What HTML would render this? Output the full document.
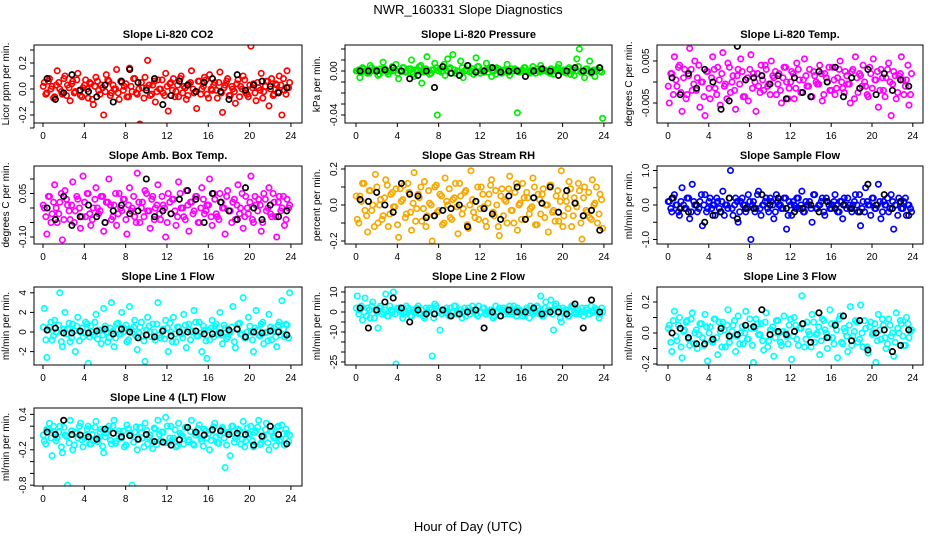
<!DOCTYPE html>
<html><head><meta charset="utf-8">
<style>
html,body{margin:0;padding:0;background:#fff;}
svg{display:block;font-family:"Liberation Sans",Arial,sans-serif;}
</style></head>
<body>
<svg id="chart" width="936" height="540" viewBox="0 0 936 540" xmlns="http://www.w3.org/2000/svg">
<rect x="0" y="0" width="936" height="540" fill="#fff"/>
<text x="468" y="14" font-size="13" text-anchor="middle">NWR_160331  Slope Diagnostics</text>
<text x="468" y="531" font-size="13" text-anchor="middle">Hour of Day (UTC)</text>
</svg>
<script>
const xTicks = [0,4,8,12,16,20,24];

const co2Values = [5,-3,8,2,-6,14,0,-4,10,3,-9,6,-2,12,-5,1,7,-7,4,-12,9,-1,3,-20,11,6,-3,0,15,-8,5,2,-6,16,-2,8,-4,-27,1,9,22,-5,3,-10,7,0,-3,12,-17,5,8,-2,-6,10,2,-8,4,14,-3,-15,6,0,9,-4,11,-1,5,-7,13,-18,3,8,-5,0,-11,7,2,10,-3,-6,33,4,-9,1,12,-2,6,-13,8,-4,3,10,-20,-1,14,5];
const co2Core = [2,-4,6,0,-7,3,5,-2,8,-5,1,4,-3,7,-1,-6,3,0,5,-8,2,6,-4,1,-2,7,-5,3,0,-3,6,-1,4,-6,2,8,-3,0,5,-7,1,3,-4,6,-2,0,7,-5,2,4,-1,-6,3,8,-3,1,-5,5,0,-2,6,-4,2,7,-7,0,3,-1,5,-3,1,6,-5,2,-2,4,-6,0,7,-4,3,1,-3,5,-1,-7,2,6,0,-5,4,-2,3,8,-4,1];
const co2Black = [8,-8,-3,11,-1,-2,-6,3,-10,6,15,5,-1,8,-12,-5,6,3,-2,5,8,-2,-8,11,-1,3,6,2,-3,1];
const presValues = [0,-6,3,0,-2,5,1,0,-4,2,8,0,-3,1,0,6,-7,0,3,-1,2,10,-5,0,4,-11,0,13,-3,1,7,-40,2,0,-4,11,3,15,-2,0,9,-6,1,5,0,-3,12,4,0,-1,7,2,-5,0,3,1,-2,0,6,-4,0,2,-38,0,1,3,-1,0,4,-2,0,5,1,0,-1,2,-3,0,6,0,1,-2,3,0,-4,11,20,0,-6,2,9,0,-5,1,0,-43];
const presCore = [0,1,-1,2,0,-2,3,0,1,-3,0,2,-1,0,4,1,-2,0,3,-1,0,2,-3,1,0,5,-1,2,0,-2,1,3,0,-1,6,0,2,-2,1,0,-4,3,0,1,-1,2,0,4,-2,0,1,-1,3,0,-3,2,0,1,0,-1,2,0,1,-1,0,3,0,-2,1,0,2,-1,0,1,0,-2,0,1,3,0,-1,0,2,-3,1,0,4,-1,0,2,0,-2,1,0,3,-1];
const presBlack = [0,0,0,1,3,0,-7,-4,0,-15,4,-2,-4,5,-1,0,3,-1,0,0,-5,0,2,0,-4,0,3,0,-1,3];
const tempValues = [-50,20,60,-10,40,-70,30,-30,80,-20,50,10,-60,0,-80,25,-40,60,-15,35,-55,70,-5,45,-25,15,-65,30,55,-35,5,-45,65,20,-70,-10,40,-20,30,-5,50,10,-30,20,-50,35,0,-15,25,-40,45,5,-25,55,-10,30,-35,15,-5,40,-45,20,0,-20,35,-30,10,50,-15,25,-5,-50,30,60,-25,15,40,-10,-35,20,55,5,-60,30,-20,10,45,-80,25,-40,15,60,-30,5,-55,20];
const tempCore = [-10,20,-30,5,35,-25,10,-40,15,30,-5,-20,40,0,-35,25,-15,10,30,-30,5,20,-10,-40,35,0,-20,15,-5,25,-35,10,30,-15,0,20,-25,5,40,-10,-30,15,25,-5,-20,10,35,-40,0,20,-15,30,-25,5,15,-10,-35,25,0,-5,20,-30,10,35,-20,5,-15,30,0,-25,15,-5,25,-40,10,20,-10,0,-30,35,-15,5,25,-20,10,-35,30,0,-5,15,-25,20,5,-10,40,-30];
const tempBlack = [10,-30,20,-15,30,0,-65,-45,85,5,10,15,-5,15,-40,10,-25,-35,25,0,35,-35,10,-15,30,-30,20,-20,5,-10];
const ambValues = [0,-9,4,-2,8,-5,2,-11,6,1,-4,9,-1,3,-7,11,-3,5,-6,0,7,-2,4,-8,2,10,-4,1,-6,5,-1,3,-9,7,0,-3,12,-5,2,6,-1,-7,4,0,8,-4,1,-10,5,-2,3,-6,9,0,-3,6,-8,2,-1,4,-5,7,-2,1,10,-6,3,-3,5,0,-9,6,-1,2,-4,8,0,-7,4,-2,11,-5,1,3,-8,5,-1,7,-3,2,-10,4,0,-6,3,1];
const ambCore = [1,-3,4,-5,2,0,-2,5,-4,3,-1,1,-5,4,0,-3,2,5,-2,-4,3,0,-1,4,-5,2,1,-3,5,-2,0,3,-4,1,-1,4,-5,2,0,-3,5,-1,3,-4,1,-2,4,0,-5,2,3,-1,-3,5,0,-4,1,2,-2,4,-5,0,3,-1,1,-3,5,-2,-4,2,0,4,-1,-5,3,1,-2,5,-3,0,2,-4,4,-1,1,-5,3,0,-2,5,-3,2,-1,4,-4,0];
const ambBlack = [0,-4,4,-6,-3,1,-3,-5,-1,1,-2,-1,10,-3,-1,-2,3,6,3,-5,5,2,-1,-4,7,0,-4,1,-3,-1];
const rhValues = [-8,5,12,-3,-15,8,0,17,-10,3,-6,14,-12,6,-1,9,-18,2,11,-5,7,-14,18,-2,4,-9,13,-6,1,-20,10,-4,6,-11,15,0,-7,3,12,-16,5,-2,8,-13,19,-4,2,-8,10,-1,-12,6,14,-6,0,-17,9,3,-10,16,-3,7,-14,1,12,-8,4,-2,15,-11,6,-5,9,0,-15,11,-3,5,-9,19,-6,2,13,-12,4,-1,8,-19,10,-4,-7,14,1,-10,6,-13];
const rhCore = [5,-10,2,12,-6,8,-3,-12,10,0,-8,4,11,-5,7,-1,-11,9,3,-7,12,-4,1,-9,6,10,-2,-12,8,0,-6,11,-3,5,-10,2,9,-8,4,-1,12,-5,7,-11,0,3,-7,10,-2,6,-9,1,11,-4,8,-12,5,-6,2,9,-3,-10,12,0,-8,4,7,-5,-1,10,-11,3,6,-7,0,11,-4,-9,8,2,-12,5,-2,9,-6,1,12,-10,4,-3,7,-8,0,10,-5,3];
const rhBlack = [3,2,7,0,-4,12,6,5,-7,-6,-3,-2,0,-12,2,-2,-5,-8,5,10,-8,4,1,10,-4,8,1,-6,-3,-14];
const sampValues = [1,-2,3,0,-3,5,-1,2,-4,6,0,-2,1,-6,3,-1,2,0,-3,1,-2,4,0,-1,10,-3,2,-5,1,0,-2,3,-10,1,-1,4,-3,0,2,-2,1,-4,3,0,-1,2,-7,1,-3,0,2,-1,4,-2,0,1,-5,3,-1,0,2,-3,1,-1,0,3,-2,1,-4,0,2,-1,0,3,-2,-6,1,5,0,-3,2,-1,6,-4,1,0,-2,3,-7,0,2,-1,1,-3,0,-2];
const sampCore = [1,-1,2,0,-2,1,0,-1,2,-2,1,0,-1,3,0,-2,1,-1,0,2,-1,1,-3,0,2,-1,0,1,-2,2,0,-1,1,0,-2,3,-1,0,1,-1,2,0,-2,1,0,-1,2,-3,0,1,-1,2,0,-2,1,0,-1,3,-1,0,1,-2,2,0,-1,1,0,-2,1,2,-1,0,-2,1,0,3,-1,-2,1,0,2,-1,0,1,-2,0,2,-1,1,0,-3,1,-1,2,0,-1];
const sampBlack = [2,-1,-2,0,-5,-3,-2,2,-4,-1,-1,3,0,2,-1,-2,-1,0,-2,1,-1,0,-1,-2,6,0,3,-1,1,-3];
const l1Values = [24,-26,5,-8,12,0,40,-15,20,3,-10,8,-20,15,0,-5,10,-32,6,-3,18,2,-12,24,0,-6,30,-15,8,-2,20,4,-10,26,-1,12,-18,5,-4,-30,15,0,8,-8,30,-6,3,12,-20,0,15,-10,5,-2,18,-16,8,0,22,-4,10,-20,2,-27,-8,12,6,-2,20,-12,4,-5,0,26,-16,8,-2,35,-6,15,0,-20,22,-3,8,-12,0,18,-8,4,-15,10,32,-5,7,40];
const l1Core = [5,-8,2,10,-4,0,7,-10,3,-2,9,-6,1,6,-9,4,-1,8,-5,0,10,-7,2,-3,6,-10,4,1,-6,9,-2,0,7,-8,3,5,-4,-1,10,-9,2,6,-5,0,8,-3,1,-7,4,9,-10,-2,5,0,-6,7,3,-8,1,10,-4,-1,6,-9,2,4,-5,8,0,-3,7,-7,1,5,-10,3,9,-2,-6,0,6,-8,4,2,-4,10,-1,-9,5,1,-5,7,-3,3,8,-6];
const l1Black = [2,4,-1,-1,1,-1,1,3,-2,3,0,-6,-3,-5,1,-4,0,0,1,-2,-2,-1,2,3,-5,0,-1,1,0,-3];
const l2Values = [8,1,-4,7,2,-3,5,1,-8,3,0,9,-2,1,10,-26,2,0,-1,3,1,-2,0,2,-1,1,-3,0,2,-22,4,-28,-9,1,0,-1,2,0,3,-1,1,0,-2,2,1,0,-1,3,0,2,-1,0,1,-2,0,2,1,-1,0,3,-1,0,2,1,-2,0,1,3,-1,0,2,8,-2,5,1,6,-9,4,2,-5,0,1,-2,3,0,1,-1,2,0,1,-1,0,2,1,-1,0];
const l2Core = [2,-1,3,0,-2,1,3,-3,0,2,-1,1,-2,3,0,-1,2,1,-3,0,2,-2,1,0,3,-1,-2,2,0,1,-3,3,0,-1,1,2,-2,0,3,-1,1,-3,2,0,-1,3,1,-2,0,2,-1,0,1,-3,3,0,-2,2,1,-1,0,3,-2,1,0,-1,2,-3,0,1,3,-1,-2,2,0,1,-1,3,0,-3,2,1,-2,0,3,-1,1,0,-2,2,-1,3,0,1,-3,2];
const l2Black = [2,-8,1,5,7,2,-5,1,-1,-1,1,-2,-1,0,1,-8,0,-2,1,0,0,2,-1,0,0,-1,4,-8,6,0];
const l3Values = [5,-12,14,-5,10,-16,2,8,-8,13,0,-10,6,-3,12,-18,4,-6,9,-14,1,7,-9,15,-2,5,-12,11,0,-7,14,-4,3,-19,9,-1,6,-11,13,-5,2,-15,8,0,-8,11,-2,5,-17,10,-4,3,24,-9,7,-1,12,-6,0,-14,9,2,-10,15,-3,6,-16,11,-7,1,-12,17,-2,8,-6,18,-9,3,-13,7,0,-19,12,-4,5,-10,9,-2,-15,13,0,6,-8,10,-3,2];
const l3Core = [3,-6,8,-2,5,-9,1,7,-4,9,-7,2,-1,6,-8,4,0,-5,9,-3,7,-9,2,5,-6,1,8,-2,-7,4,0,-4,9,-8,3,6,-1,-5,7,-9,2,4,-3,8,-6,1,0,-7,9,-2,5,-8,3,6,-4,1,-9,7,-1,4,-5,8,0,-3,6,-7,2,9,-6,3,-2,5,-8,1,7,-4,0,8,-9,4,-1,6,-5,2,9,-3,-7,5,0,-6,3,8,-2,-8,6,1];
const l3Black = [0,3,-3,-7,-7,-4,3,-2,-1,5,4,15,-1,1,-1,1,6,-6,13,-3,5,11,-5,8,-11,0,2,-12,-8,2];
const l4Values = [-5,15,25,-30,10,0,20,-25,5,-80,30,-20,10,0,25,-15,5,20,-10,-5,28,0,15,-25,8,20,-10,30,-5,12,0,-15,22,5,-80,10,-20,18,0,25,-10,5,-18,15,30,-5,10,35,-8,20,0,-15,25,5,-10,18,-3,30,-12,8,22,-5,15,0,-20,12,25,-8,5,18,-50,10,-30,20,0,15,-10,28,-5,8,20,-15,12,30,-8,3,25,-20,10,0,18,-5,22,-12,8,5];
const l4Core = [5,-10,15,0,20,-5,10,-15,18,3,-8,12,-12,8,20,-3,0,15,-10,6,18,-6,10,-14,2,14,-4,20,-9,7,0,12,-12,16,4,-7,19,-2,9,-15,13,1,-5,17,-11,6,10,-8,20,0,-3,14,-13,8,3,18,-6,11,-10,5,16,-1,-14,12,7,-4,19,2,-9,15,0,-12,10,20,-7,4,13,-2,-15,17,6,-5,9,18,-11,1,14,-8,11,3,-13,20,-3,7,15,-6];
const l4Black = [10,6,30,6,5,2,-2,15,8,2,4,-2,6,-6,-7,-12,-3,18,10,5,14,12,6,8,6,-12,3,20,6,-10];

const co2Ticks = [0.3,0.2,0.1,0,-0.1,-0.2,-0.3];
const co2Labels = ["","0.2","","0.0","","-0.2",""];
const presTicks = [0.02,0.01,0,-0.01,-0.02,-0.03,-0.04];
const presLabels = ["","","0.00","","","","-0.04"];
const tempTicks = [0.005,0,-0.005];
const tempLabels = ["0.005","","-0.005"];
const ambTicks = [0.1,0.05,0,-0.05,-0.1];
const ambLabels = ["","0.05","","","-0.10"];
const rhTicks = [0.2,0.1,0,-0.1,-0.2];
const rhLabels = ["0.2","","0.0","","-0.2"];
const sampTicks = [1,0.5,0,-0.5,-1];
const sampLabels = ["1.0","","0.0","","-1.0"];
const l1Ticks = [4,2,0,-2];
const l1Labels = ["4","2","0","-2"];
const l2Ticks = [10,5,0,-5,-10,-15,-20,-25];
const l2Labels = ["10","","0","","-10","","","-25"];
const l3Ticks = [0.2,0.1,0,-0.1,-0.2];
const l3Labels = ["0.2","","0.0","","-0.2"];
const l4Ticks = [0.4,0.2,0,-0.2,-0.4,-0.6,-0.8];
const l4Labels = ["0.4","","","-0.2","","","-0.8"];

const cols = [{l:34,r:302,h0:43,ph:10.33,lab:9},{l:345,r:612,h0:356,ph:10.33,lab:320},{l:657,r:923,h0:668,ph:10.2,lab:632}];
const rowsTop = [45,166,287,408];
const boxH = 78;

const panels = [
 {id:'co2',title:'Slope Li-820 CO2',ylab:'Licor ppm per min.',c:0,r:0,color:'#ff0000',zero:89,k:130,unit:0.01,vals:co2Values,core:co2Core,blk:co2Black,ticks:co2Ticks,labels:co2Labels},
 {id:'pressure',title:'Slope Li-820 Pressure',ylab:'kPa per min.',c:1,r:0,color:'#00ee00',zero:71,k:1100,unit:0.001,vals:presValues,core:presCore,blk:presBlack,ticks:presTicks,labels:presLabels},
 {id:'temp',title:'Slope Li-820 Temp.',ylab:'degrees C per min.',c:2,r:0,color:'#ff00ff',zero:82,k:4200,unit:0.0001,vals:tempValues,core:tempCore,blk:tempBlack,ticks:tempTicks,labels:tempLabels},
 {id:'amb-box-temp',title:'Slope Amb. Box Temp.',ylab:'degrees C per min.',c:0,r:1,color:'#ff00ff',zero:208,k:290,unit:0.01,vals:ambValues,core:ambCore,blk:ambBlack,ticks:ambTicks,labels:ambLabels},
 {id:'gas-stream-rh',title:'Slope Gas Stream RH',ylab:'percent per min.',c:1,r:1,color:'#f6a800',zero:205,k:180,unit:0.01,vals:rhValues,core:rhCore,blk:rhBlack,ticks:rhTicks,labels:rhLabels},
 {id:'sample-flow',title:'Slope Sample Flow',ylab:'ml/min per min.',c:2,r:1,color:'#0000ff',zero:205,k:34.5,unit:0.1,vals:sampValues,core:sampCore,blk:sampBlack,ticks:sampTicks,labels:sampLabels},
 {id:'line1-flow',title:'Slope Line 1 Flow',ylab:'ml/min per min.',c:0,r:2,color:'#00ffff',zero:332,k:9.8,unit:0.1,vals:l1Values,core:l1Core,blk:l1Black,ticks:l1Ticks,labels:l1Labels},
 {id:'line2-flow',title:'Slope Line 2 Flow',ylab:'ml/min per min.',c:1,r:2,color:'#00ffff',zero:312,k:2,unit:1,vals:l2Values,core:l2Core,blk:l2Black,ticks:l2Ticks,labels:l2Labels},
 {id:'line3-flow',title:'Slope Line 3 Flow',ylab:'ml/min per min.',c:2,r:2,color:'#00ffff',zero:333,k:155,unit:0.01,vals:l3Values,core:l3Core,blk:l3Black,ticks:l3Ticks,labels:l3Labels},
 {id:'line4-flow',title:'Slope Line 4 (LT) Flow',ylab:'ml/min per min.',c:0,r:3,color:'#00ffff',zero:438,k:59,unit:0.01,vals:l4Values,core:l4Core,blk:l4Black,ticks:l4Ticks,labels:l4Labels}
];

const NS='http://www.w3.org/2000/svg';
const svg=document.getElementById('chart');
function mk(tag,attrs,parent){const e=document.createElementNS(NS,tag);for(const a in attrs)e.setAttribute(a,attrs[a]);(parent||svg).appendChild(e);return e;}

panels.forEach(p=>{
  const col=cols[p.c], top=rowsTop[p.r], bot=top+boxH;
  const xS=h=>col.h0+h*col.ph;
  const yS=v=>p.zero-v*p.k;
  const g=mk('g',{});
  
  
  const clip=mk('clipPath',{id:'clip-'+p.id},g);
  mk('rect',{x:col.l,y:top,width:col.r-col.l,height:boxH},clip);
  const t=mk('text',{x:(col.l+col.r)/2,y:top-7,'font-size':11,'font-weight':'bold','text-anchor':'middle'},g);
  t.textContent=p.title;
  
  
  const yl=mk('text',{x:col.lab,y:(top+bot)/2,'font-size':10,'text-anchor':'middle',transform:`rotate(-90 ${col.lab} ${(top+bot)/2})`},g);
  yl.textContent=p.ylab;
  
  
  const pts=mk('g',{'clip-path':`url(#clip-${p.id})`,fill:'none','stroke-width':1.7},g);
  
  
  const n=p.vals.length;
  p.vals.forEach((v,i)=>{
    const h=(i+0.5)*24/n;
    const c=mk('circle',{cx:xS(h),cy:yS(v*p.unit),r:2.7,stroke:p.color},pts);
    
    
  });
  const nc=p.core.length;
  p.core.forEach((v,i)=>{
    const h=(i+0.1)*24/nc;
    const c=mk('circle',{cx:xS(h),cy:yS(v*p.unit),r:2.7,stroke:p.color},pts);
    
    
  });
  const nb=p.blk.length;
  p.blk.forEach((v,i)=>{
    const h=(i+0.5)*24/nb;
    const c=mk('circle',{cx:xS(h),cy:yS(v*p.unit),r:2.7,stroke:'#000'},pts);
    
    
  });
  const box=mk('rect',{x:col.l,y:top,width:col.r-col.l,height:boxH,fill:'none',stroke:'#000','stroke-width':1},g);
  
  
  const xa=mk('g',{stroke:'#000','stroke-width':1},g);
  
  
  mk('line',{x1:xS(xTicks[0]),x2:xS(xTicks[xTicks.length-1]),y1:bot,y2:bot},xa);
  xTicks.forEach(h=>{
    mk('line',{x1:xS(h),x2:xS(h),y1:bot,y2:bot+4},xa);
    const lt=mk('text',{x:xS(h),y:bot+16,'font-size':10,'text-anchor':'middle',stroke:'none',fill:'#000'},xa);
    lt.textContent=h;
  });
  const ya=mk('g',{stroke:'#000','stroke-width':1},g);
  
  
  const tks=p.ticks;
  mk('line',{x1:col.l,x2:col.l,y1:yS(tks[0]),y2:yS(tks[tks.length-1])},ya);
  tks.forEach((v,i)=>{
    const y=yS(v);
    mk('line',{x1:col.l-4,x2:col.l,y1:y,y2:y},ya);
    if(p.labels[i]){
      const lx=col.l-8;
      const lt=mk('text',{x:lx,y:y,'font-size':10,'text-anchor':'middle',stroke:'none',fill:'#000',transform:`rotate(-90 ${lx} ${y})`},ya);
      lt.textContent=p.labels[i];
    }
  });
});
</script>
</body></html>
